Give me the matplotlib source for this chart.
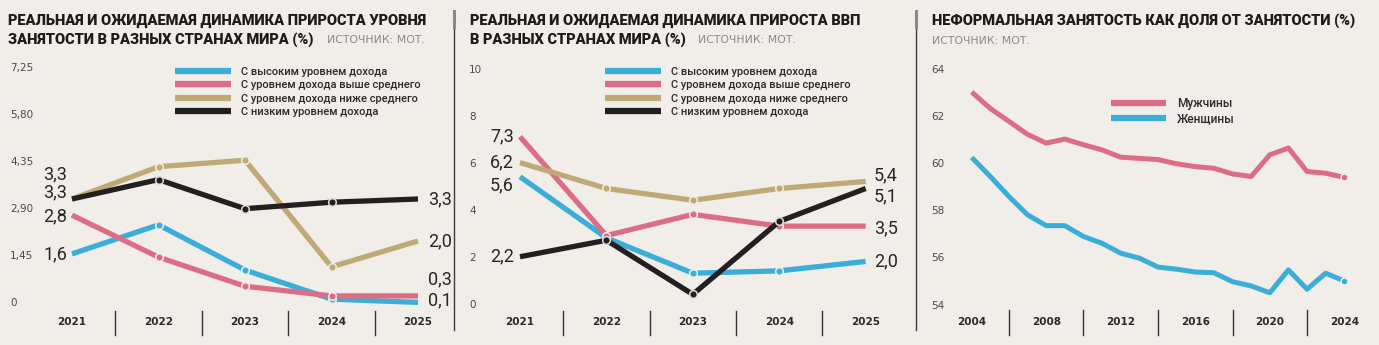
import matplotlib
matplotlib.use("Agg")
import matplotlib.pyplot as plt
from matplotlib.transforms import blended_transform_factory as blend
from matplotlib.lines import Line2D

plt.rcParams['font.family'] = ['DejaVu Sans']

# ---- data ----
years_a = [2021, 2022, 2023, 2024, 2025]
groups = ["С высоким уровнем дохода", "С уровнем дохода выше среднего",
          "С уровнем дохода ниже среднего", "С низким уровнем дохода"]

# employment growth, %
emp_high = [1.6, 2.5, 1.1, 0.2, 0.1]
emp_upper = [2.8, 1.5, 0.6, 0.3, 0.3]
emp_lower = [3.3, 4.3, 4.5, 1.2, 2.0]
emp_low = [3.3, 3.9, 3.0, 3.2, 3.3]
emp_ticks = [0, 1.45, 2.90, 4.35, 5.80, 7.25]
emp_ticklabels = ["0", "1,45", "2,90", "4,35", "5,80", "7,25"]

# GDP growth, %
gdp_high = [5.6, 3.0, 1.5, 1.6, 2.0]
gdp_upper = [7.3, 3.1, 4.0, 3.5, 3.5]
gdp_lower = [6.2, 5.1, 4.6, 5.1, 5.4]
gdp_low = [2.2, 2.9, 0.6, 3.7, 5.1]
gdp_ticks = [0, 2, 4, 6, 8, 10]

# informal employment share, %
years_b = list(range(2004, 2025))
men = [63.2, 62.5, 61.95, 61.4, 61.03, 61.2, 60.96, 60.74, 60.43, 60.38, 60.33,
       60.15, 60.03, 59.96, 59.72, 59.61, 60.53, 60.82, 59.82, 59.75, 59.57]
women = [60.42, 59.61, 58.76, 57.98, 57.52, 57.52, 57.06, 56.77, 56.35, 56.14, 55.76,
         55.67, 55.55, 55.52, 55.14, 54.96, 54.67, 55.64, 54.82, 55.5, 55.17]
inf_ticks = [54, 56, 58, 60, 62, 64]
tick_years_b = [2004, 2008, 2012, 2016, 2020, 2024]

BG = '#f1eeea'
BLUE = '#3aaed8'
PINK = '#dd6d85'
GOLD = '#bfa977'
BLACK = '#231f20'
colors = [BLUE, PINK, GOLD, BLACK]
ROBOTO = ['Roboto', 'DejaVu Sans']
TITLE_FONT = dict(family=ROBOTO, fontweight='heavy', fontsize=10.5, color='#1c1c1c')
NUM_FONT = dict(family=ROBOTO, fontweight='normal', fontsize=13, color='#262626')
LEG_FONT = dict(family=ROBOTO, weight='medium', size=8.0)

W, H = 1379, 345
fig = plt.figure(figsize=(W / 100, H / 100), dpi=100, facecolor=BG)


def lims(p_lo, p_hi, pa, va, pb, vb):
    k = (vb - va) / (pb - pa)
    return va + (p_lo - pa) * k, va + (p_hi - pa) * k


def make_ax(left, top, right, bottom, xmap, ymap):
    ax = fig.add_axes([left / W, 1 - bottom / H, (right - left) / W, (bottom - top) / H])
    ax.set_facecolor('none')
    ax.set_xlim(*lims(left, right, *xmap))
    # y pixels grow downwards
    y0, y1 = lims(bottom, top, *ymap)
    ax.set_ylim(y0, y1)
    ax.axis('off')
    return ax


def yticks(ax, ticks, labels, xpx):
    tr = blend(fig.transFigure, ax.transData)
    for t, l in zip(ticks, labels):
        ax.text(xpx / W, t, l, transform=tr, ha='left', va='baseline',
                fontsize=7.5, color='#4a4a4a', clip_on=False)


def xticks(ax, ticks, seps, sep_top=311):
    tr = blend(ax.transData, fig.transFigure)
    for t in ticks:
        ax.text(t, 1 - 322 / H, str(t), transform=tr, ha='center', va='center',
                fontsize=7.5, fontweight='bold', color='#2a2a2a', clip_on=False)
    for s in seps:
        ax.plot([s, s], [1 - sep_top / H, 1 - 335 / H], transform=tr, color='#333333',
                lw=1, clip_on=False)


def titles(x, lines, src_pos):
    for i, line in enumerate(lines):
        fig.text(x / W, 1 - (21 + 18.5 * i) / H, line, ha='left', va='center', **TITLE_FONT)
    fig.text(src_pos[0] / W, 1 - src_pos[1] / H, "ИСТОЧНИК: МОТ.", ha='left', va='center',
             fontsize=7.8, color='#8a8a8a')


def legend(ax, handles, labels, xpx, ypx):
    ax.legend(handles, labels, loc='upper left',
              bbox_to_anchor=(xpx / W, 1 - ypx / H), bbox_transform=fig.transFigure,
              frameon=False, prop=LEG_FONT, handlelength=5.0, handletextpad=0.95,
              labelspacing=0.3, borderpad=0, borderaxespad=0, labelcolor='#2a2a2a')


def four_lines(ax, series, left_off, right_off, lx, rx):
    handles = []
    tr = blend(fig.transFigure, ax.transData)
    for s, c, lo, ro in zip(series, colors, left_off, right_off):
        edge = BG if c != BLACK else '#dddddd'
        ax.plot(years_a, s, color=c, lw=3.8, solid_capstyle='butt',
                marker='o', markevery=[1, 2, 3], ms=5.5, mfc=c, mec=edge, mew=1.1,
                clip_on=False, zorder=3)
        handles.append(Line2D([], [], color=c, lw=4.5, solid_capstyle='butt'))
        ax.annotate(f"{s[0]:.1f}".replace('.', ','), (lx / W, s[0]), xycoords=tr,
                    xytext=(0, -lo * 0.72), textcoords='offset points',
                    ha='right', va='center', **NUM_FONT)
        ax.annotate(f"{s[-1]:.1f}".replace('.', ','), (rx / W, s[-1]), xycoords=tr,
                    xytext=(0, -ro * 0.72), textcoords='offset points',
                    ha='left', va='center', **NUM_FONT)
    return handles


# ---- panel 1: employment ----
ax1 = make_ax(40, 60, 450, 310, (72, 2021, 418, 2025), (305.6, 0, 71.4, 7.25))
h = four_lines(ax1, [emp_high, emp_upper, emp_lower, emp_low],
               [0, 1, -25, -7], [-2, -17, 0, 0], 67, 428)
yticks(ax1, emp_ticks, emp_ticklabels, 10)
xticks(ax1, years_a, [y + 0.5 for y in years_a[:-1]])
legend(ax1, h, groups, 175, 67)
titles(8, ["РЕАЛЬНАЯ И ОЖИДАЕМАЯ ДИНАМИКА ПРИРОСТА УРОВНЯ",
           "ЗАНЯТОСТИ В РАЗНЫХ СТРАНАХ МИРА (%)"], (327, 40))

# ---- panel 2: GDP ----
ax2 = make_ax(495, 60, 905, 310, (520, 2021, 865.7, 2025), (308.5, 0, 73.2, 10))
h = four_lines(ax2, [gdp_high, gdp_upper, gdp_lower, gdp_low],
               [9, 0, 0, 0], [0, 2, -6, 8], 514, 874)
yticks(ax2, gdp_ticks, [str(t) for t in gdp_ticks], 469)
xticks(ax2, years_a, [y + 0.5 for y in years_a[:-1]])
legend(ax2, h, groups, 605, 67)
titles(470, ["РЕАЛЬНАЯ И ОЖИДАЕМАЯ ДИНАМИКА ПРИРОСТА ВВП",
             "В РАЗНЫХ СТРАНАХ МИРА (%)"], (698, 40))

# ---- panel 3: informal employment ----
ax3 = make_ax(955, 60, 1360, 310, (971.7, 2004, 1344.3, 2024), (308.5, 54, 73.2, 64))
ax3.plot(years_b, men, color=PINK, lw=3.6, solid_capstyle='butt', zorder=3)
ax3.plot(years_b, women, color=BLUE, lw=3.6, solid_capstyle='butt', zorder=3)
ax3.plot(years_b[-1:], men[-1:], 'o', color=PINK, ms=5, mec=BG, mew=1, zorder=4, clip_on=False)
ax3.plot(years_b[-1:], women[-1:], 'o', color=BLUE, ms=5, mec=BG, mew=1, zorder=4, clip_on=False)
yticks(ax3, inf_ticks, [str(t) for t in inf_ticks], 931)
xticks(ax3, tick_years_b, [y + 2 for y in tick_years_b[:-1]], sep_top=310)
ax3.legend([Line2D([], [], color=PINK, lw=4.5, solid_capstyle='butt'),
            Line2D([], [], color=BLUE, lw=4.5, solid_capstyle='butt')],
           ["Мужчины", "Женщины"], loc='upper left',
           bbox_to_anchor=(1111 / W, 1 - 97 / H), bbox_transform=fig.transFigure,
           frameon=False, prop=dict(family=ROBOTO, weight='medium', size=8.6),
           handlelength=4.6, handletextpad=0.9,
           labelspacing=0.22, borderpad=0, borderaxespad=0, labelcolor='#2a2a2a')
fig.text(932 / W, 1 - 21 / H, "НЕФОРМАЛЬНАЯ ЗАНЯТОСТЬ КАК ДОЛЯ ОТ ЗАНЯТОСТИ (%)",
         ha='left', va='center', **TITLE_FONT)
fig.text(932 / W, 1 - 41 / H, "ИСТОЧНИК: МОТ.", ha='left', va='center',
         fontsize=7.8, color='#8a8a8a')

# panel dividers
for xd in (454, 916):
    fig.add_artist(Line2D([xd / W, xd / W], [1 - 12 / H, 1 - 330 / H], color='#3a3a3a', lw=1))
    fig.add_artist(Line2D([xd / W, xd / W], [1 - 11 / H, 1 - 27 / H], color='#8a8a8a', lw=2.2))

fig.savefig("out.png", dpi=100, facecolor=BG)
